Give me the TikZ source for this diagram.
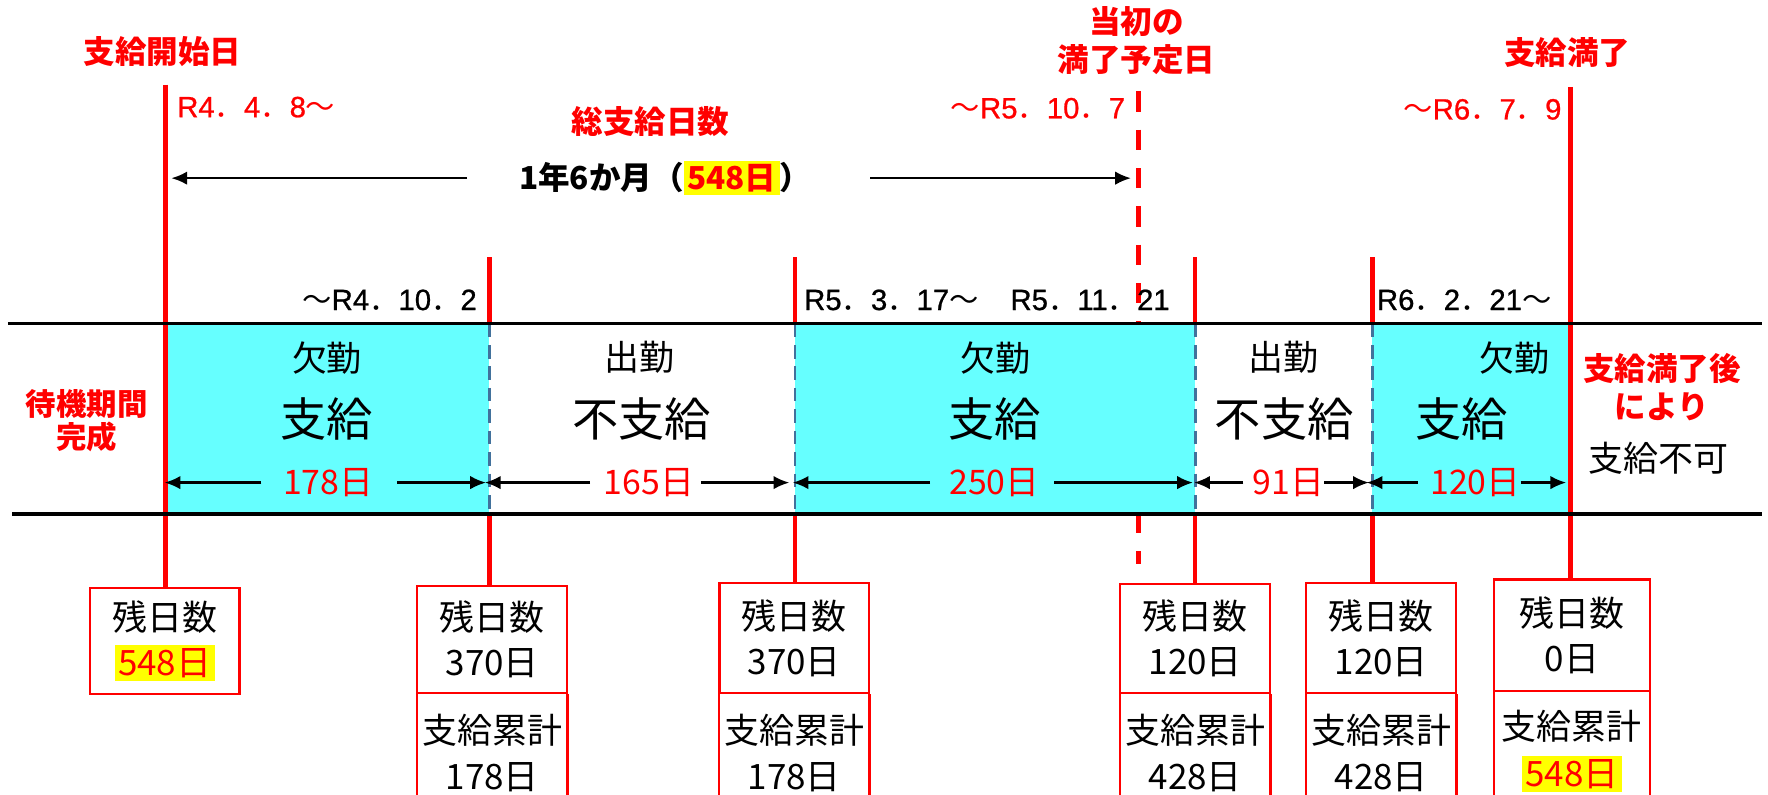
\documentclass[tikz,border=0pt]{standalone}
\usepackage{fontspec}
\setmainfont{Noto Sans CJK JP}
\newfontfamily\ltfont{Liberation Sans}[FakeBold=0.8]
\newcommand{\lt}[1]{{\ltfont #1}}
\usetikzlibrary{arrows.meta}
\definecolor{cyanfill}{HTML}{66FFFF}
\definecolor{sepblue}{HTML}{41719C}
\definecolor{hlyellow}{HTML}{FFFF00}
\newcommand{\hlday}[1]{{\setlength{\fboxsep}{3pt}\colorbox{hlyellow}{\textcolor{red}{#1}}}}
\begin{document}
\begin{tikzpicture}[x=1pt,y=-1pt,
  redlbl/.style={text=red,font=\bfseries\fontsize{28}{34}\selectfont,align=center,inner sep=0pt},
  reddate/.style={text=red,font=\fontsize{26}{30}\selectfont,inner sep=0pt},
  blkdate/.style={text=black,font=\fontsize{26}{30}\selectfont,inner sep=0pt},
  kin/.style={font=\fontsize{31}{36}\selectfont,inner sep=0pt},
  pay/.style={font=\fontsize{41}{46}\selectfont,inner sep=0pt},
  days/.style={text=red,font=\fontsize{30}{36}\selectfont,inner sep=0pt},
  redline/.style={draw=red,line width=4pt},
  reddash/.style={draw=red,line width=4.5pt,dash pattern=on 18pt off 16pt},
  bandline/.style={draw=black,line width=3pt},
  sepline/.style={draw=sepblue,line width=2.5pt,dash pattern=on 12pt off 7pt},
  dimarrow/.style={draw=black,line width=2pt,-{Latex[length=14pt,width=12pt]}},
  remain/.style={draw=red,line width=2pt,minimum width=133pt,align=center,inner sep=0pt,font=\fontsize{31}{40}\selectfont,anchor=north},
  total/.style={align=center,inner sep=0pt,font=\fontsize{31}{41}\selectfont,anchor=north,minimum width=133pt,minimum height=104pt},
  boxside/.style={draw=red,line width=2pt},
]
\useasboundingbox (0,0) rectangle (1568,705);

% timeline marker coordinates
\coordinate (t0) at (147,75);
\coordinate (t1) at (434,228);
\coordinate (t2) at (705,228);
\coordinate (t3) at (1010,81);
\coordinate (d3) at (1010,500);
\coordinate (t4) at (1060,228);
\coordinate (t5) at (1217,228);
\coordinate (t6) at (1393,77);
\coordinate (bt) at (0,287);
\coordinate (bb) at (0,456);

% remaining-days boxes
\node[remain,minimum height=94pt] (b0) at (146,520.5) {残日数\\\hlday{548日}};
\node[remain,minimum height=94.5pt] (b1) at (436.5,519) {残日数\\370日};
\node[remain,minimum height=97.5pt] (b2) at (704.5,516) {残日数\\370日};
\node[remain,minimum height=96.5pt] (b3) at (1060,517) {残日数\\120日};
\node[remain,minimum height=97.5pt] (b4) at (1225,516) {残日数\\120日};
\node[remain,minimum height=99pt,minimum width=138pt] (b5) at (1394,513) {残日数\\0日};

% cumulative boxes
\node[total] (c1) at (b1.south) {支給累計\\178日};
\node[total] (c2) at (b2.south) {支給累計\\178日};
\node[total] (c3) at (b3.south) {支給累計\\428日};
\node[total] (c4) at (b4.south) {支給累計\\428日};
\node[total,minimum width=138pt] (c5) at (b5.south) {支給累計\\\hlday{548日}};
\foreach \c in {c1,c2,c3,c4,c5}{
  \draw[boxside] (\c.north west) -- (\c.south west) (\c.north east) -- (\c.south east);
}

% red vertical markers
\draw[redline] (t0) -- (t0 |- b0.north);
\draw[redline] (t1) -- (t1 |- b1.north);
\draw[redline] (t2) -- (t2 |- b2.north);
\draw[reddash] (t3) -- (d3);
\draw[redline] (t4) -- (t4 |- b3.north);
\draw[redline] (t5) -- (t5 |- b4.north);
\draw[redline] (t6) -- (t6 |- b5.north);

% band fills
\fill[cyanfill] (149,287) rectangle (434,456);
\fill[white] (434,287) rectangle (705,456);
\fill[cyanfill] (705,287) rectangle (1060,456);
\fill[white] (1060,287) rectangle (1217,456);
\fill[cyanfill] (1217,287) rectangle (1391,456);

% separators
\foreach \t in {t1,t2,t4,t5}{
  \draw[sepline] (\t |- bt) -- (\t |- bb);
}

% band lines
\draw[bandline] (7,287) -- (1563,287);
\draw[bandline] (11,456) -- (1563,456);

% top labels
\node[redlbl] (start) at (144,46) {支給開始日};
\node[redlbl] (sum) at (577,108) {総支給日数};
\node[redlbl] (orig) at (1008,36) {当初の\\満了予定日};
\node[redlbl] (end) at (1390,47) {支給満了};
\node[reddate,anchor=west] (r1) at (157,95) {\lt{R4}．\lt{4}．\lt{8}～};
\node[reddate,anchor=east] (r2) at (998,96) {～\lt{R5}．\lt{10}．\lt{7}};
\node[reddate,anchor=east] (r3) at (1385,97) {～\lt{R6}．\lt{7}．\lt{9}};

% total period
\node[font=\bfseries\fontsize{28}{34}\selectfont,inner sep=0pt] (tot) at (590,158) {1年6か月（\hlday{548日}）};
\draw[dimarrow,shorten <=46pt,shorten >=5pt] (tot.west) -- (t0 |- tot.west);
\draw[dimarrow,shorten <=52pt,shorten >=7pt] (tot.east) -- (t3 |- tot.east);

% dates above band
\node[blkdate,anchor=east] (k1d) at (423,266) {～\lt{R4}．\lt{10}．\lt{2}};
\node[blkdate,anchor=west] (k3d) at (713,266) {\lt{R5}．\lt{3}．\lt{17}～};
\node[blkdate,anchor=west] (k3e) at (896,266) {\lt{R5}．\lt{11}．\lt{21}};
\node[blkdate,anchor=west] (k5d) at (1221,266) {\lt{R6}．\lt{2}．\lt{21}～};

% band texts
\node[kin] (k1) at (290,318) {欠勤};
\node[pay] (s1) at (290,372) {支給};
\node[kin] (k2) at (567,317) {出勤};
\node[pay] (s2) at (569,372) {不支給};
\node[kin] (k3) at (883,318) {欠勤};
\node[pay] (s3) at (882,372) {支給};
\node[kin] (k4) at (1138,317) {出勤};
\node[pay] (s4) at (1139,372) {不支給};
\node[kin] (k5) at (1343,318) {欠勤};
\node[pay] (s5) at (1296,372) {支給};

\node[redlbl,font=\bfseries\fontsize{27}{30}\selectfont] (wait) at (77,373) {待機期間\\完成};
\node[redlbl] (after) at (1474,343) {支給満了後\\により};
\node[kin,font=\fontsize{31}{36}\selectfont] (nopay) at (1471,406) {支給不可};

% day counts
\node[days] (d1) at (291,428) {178日};
\node[days] (d2) at (575.5,428) {165日};
\node[days] (d3n) at (882,428) {250日};
\node[days] (d4) at (1142.5,428) {91日};
\node[days] (d5) at (1308.5,428) {120日};
\draw[dimarrow,shorten <=19pt,shorten >=-1pt] (d1.west) -- (t0 |- d1.west);
\draw[dimarrow,shorten <=21pt,shorten >=3pt] (d1.east) -- (t1 |- d1.east);
\draw[dimarrow,shorten <=12pt,shorten >=-4pt] (d2.west) -- (t1 |- d2.west);
\draw[dimarrow,shorten <=6pt,shorten >=5pt] (d2.east) -- (t2 |- d2.east);
\draw[dimarrow,shorten <=17pt,shorten >=-2pt] (d3n.west) -- (t2 |- d3n.west);
\draw[dimarrow,shorten <=13pt,shorten >=2pt] (d3n.east) -- (t4 |- d3n.east);
\draw[dimarrow,shorten <=8pt,shorten >=-1pt] (d4.west) -- (t4 |- d4.west);
\draw[dimarrow,shorten <=0pt,shorten >=3pt] (d4.east) -- (t5 |- d4.east);
\draw[dimarrow,shorten <=11pt,shorten >=-5pt] (d5.west) -- (t5 |- d5.west);
\draw[dimarrow,shorten <=0pt,shorten >=4pt] (d5.east) -- (t6 |- d5.east);
\end{tikzpicture}
\end{document}
